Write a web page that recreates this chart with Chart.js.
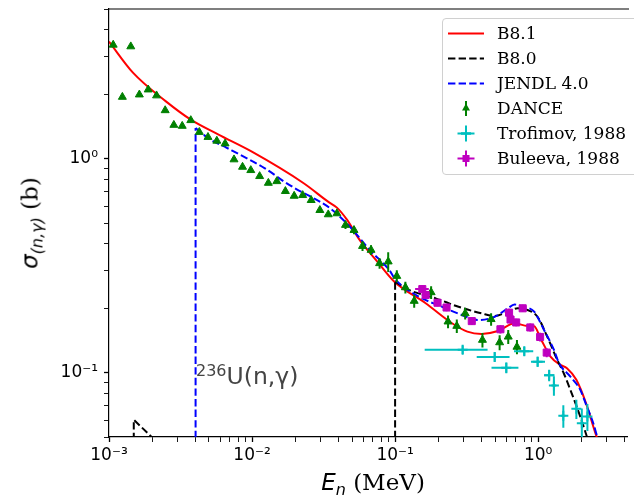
<!DOCTYPE html>
<html><head><meta charset="utf-8">
<script src="https://cdn.jsdelivr.net/npm/chart.js@4.4.1/dist/chart.umd.min.js"></script>
<style>
html,body{margin:0;padding:0;background:#fff;}
#wrap{position:relative;width:634px;height:496px;overflow:hidden;background:#fff;}
canvas{position:absolute;left:0;top:0;}
.ov{position:absolute;white-space:nowrap;color:#000;line-height:1;}
#legend{position:absolute;left:442px;top:18px;width:200px;height:157px;border:1px solid #d0d0d0;border-radius:4px;background:rgba(255,255,255,0.85);box-sizing:border-box;}
.row{position:absolute;left:0;height:25px;width:200px;}
.row svg{position:absolute;left:4px;top:0;}
.row span{position:absolute;left:54px;top:2px;font-family:'DejaVu Serif',serif;font-size:17px;line-height:20px;color:#000;}
</style></head><body>
<div id="wrap">
<canvas id="c" width="634" height="496"></canvas>
<div id="ytitle" class="ov" style="left:30px;top:223px;transform:translate(-50%,-50%) rotate(-90deg);font-size:23px;"><span style="font-family:'DejaVu Sans';font-style:italic;">σ</span><span style="font-family:'DejaVu Sans';font-style:italic;font-size:16px;position:relative;top:5px;">(n,γ)</span><span style="font-family:'DejaVu Serif';"> (b)</span></div>
<div id="xtitle" class="ov" style="left:373px;top:482px;transform:translate(-50%,-50%);font-size:23px;"><span style="font-family:'DejaVu Sans';font-style:italic;">E</span><span style="font-family:'DejaVu Sans';font-style:italic;font-size:16px;position:relative;top:5px;">n</span><span style="font-family:'DejaVu Serif';"> (MeV)</span></div>
<div id="note" class="ov" style="left:196px;top:365px;font-family:'DejaVu Sans';font-size:23.5px;color:#444;"><span style="font-size:16px;position:relative;top:-8px;">236</span>U(n,γ)</div>
<div id="legend"></div>
</div>
<script>
// ---- axis ranges & tick labels ----
const xMin = 1e-3, xMax = 4.18;
const yMin = 0.05, yMax = 5;
const xMajorTicks = [1e-3, 1e-2, 1e-1, 1];
const xMajorLabels = ['10\u207B\u00B3', '10\u207B\u00B2', '10\u207B\u00B9', '10\u2070'];
const yMajorTicks = [0.1, 1];
const yMajorLabels = ['10\u207B\u00B9', '10\u2070'];

// ---- evaluations (E in MeV, sigma in b) ----
const b81E = [1e-3, 1.47e-3, 2.5e-3, 3.73e-3, 5.83e-3, 9.9e-3, 2.31e-2, 3.4e-2, 3.92e-2, 4.58e-2, 5.68e-2, 7.46e-2, 0.0989, 0.1636, 0.25, 0.32, 0.4027, 0.524, 0.683, 0.843, 0.938, 1.044, 1.22, 1.43, 1.59, 1.85, 2.16, 2.56, 2.84];
const b81S = [3.52, 2.52, 1.85, 1.52, 1.294, 1.08, 0.765, 0.629, 0.59, 0.521, 0.415, 0.332, 0.2657, 0.2108, 0.170, 0.1553, 0.1516, 0.1564, 0.170, 0.165, 0.1645, 0.1436, 0.1188, 0.1086, 0.1048, 0.0925, 0.072, 0.0503, 0.043];

const b80E = [0.1, 0.1256, 0.192, 0.2776, 0.403, 0.497, 0.614, 0.72, 0.844, 0.989, 1.159, 1.36, 1.51, 1.68, 1.97, 2.19, 2.4];
const b80S = [0.2657, 0.243, 0.2223, 0.203, 0.189, 0.1838, 0.1925, 0.1997, 0.196, 0.1824, 0.147, 0.1146, 0.0993, 0.083, 0.0623, 0.0503, 0.042];
const b80LowE = [1.49e-3, 1.49e-3, 2.0e-3, 2.3e-3];
const b80LowS = [0.001, 0.0602, 0.0498, 0.045];

const jenE = [4.03e-3, 4.98e-3, 6.49e-3, 7.2e-3, 1.23e-2, 1.68e-2, 2.08e-2, 2.56e-2, 3.52e-2, 4.84e-2, 6.65e-2, 9.14e-2, 0.1, 0.147, 0.2134, 0.293, 0.381, 0.497, 0.614, 0.684, 0.789, 0.938, 1.10, 1.29, 1.40, 1.68, 1.97, 2.19, 2.43, 2.59, 2.8];
const jenS = [1.389, 1.24, 1.133, 1.093, 0.90, 0.78, 0.715, 0.665, 0.585, 0.48, 0.3735, 0.3006, 0.2735, 0.2262, 0.203, 0.1858, 0.176, 0.1824, 0.1997, 0.208, 0.203, 0.1925, 0.158, 0.1276, 0.1106, 0.0958, 0.083, 0.0694, 0.058, 0.0503, 0.045];

// ---- measurements ----
const danceE = [1.07e-3, 1.24e-3, 1.42e-3, 1.63e-3, 1.88e-3, 2.15e-3, 2.47e-3, 2.84e-3, 3.25e-3, 3.73e-3, 4.28e-3, 4.92e-3, 5.67e-3, 6.48e-3, 7.48e-3, 8.58e-3, 9.8e-3, 1.13e-2, 1.30e-2, 1.49e-2, 1.71e-2, 1.97e-2, 2.26e-2, 2.59e-2, 2.98e-2, 3.41e-2, 3.92e-2, 4.50e-2, 5.16e-2, 5.92e-2, 6.79e-2, 7.79e-2, 8.95e-2, 0.1028, 0.118, 0.136, 0.1786, 0.2345, 0.270, 0.309, 0.408, 0.469, 0.538, 0.618, 0.711];
const danceS = [3.40, 1.94, 3.34, 1.99, 2.10, 1.97, 1.68, 1.435, 1.42, 1.51, 1.33, 1.26, 1.21, 1.175, 0.99, 0.914, 0.882, 0.827, 0.769, 0.783, 0.704, 0.669, 0.674, 0.639, 0.574, 0.548, 0.554, 0.489, 0.463, 0.390, 0.374, 0.324, 0.330, 0.2825, 0.250, 0.216, 0.237, 0.173, 0.165, 0.189, 0.142, 0.1775, 0.1383, 0.147, 0.1318];
const danceErr = [0,0,0,0,0,0,0,0,0,0,0,0,0,0,0,0,0,0,0,0,0,0,0,0,0,0,0, 0.02, 0.02, 0.02, 0.02, 0.018, 0.035, 0.018, 0.016, 0.015, 0.016, 0.012, 0.012, 0.012, 0.011, 0.012, 0.011, 0.011, 0.01];

const troE   = [0.2967, 0.497, 0.599, 0.80, 0.992, 1.194, 1.289, 1.50, 1.85, 2.02, 2.21];
const troS   = [0.128, 0.1184, 0.1054, 0.1259, 0.1125, 0.0972, 0.087, 0.0628, 0.0677, 0.058, 0.0623];
const troElo = [0.161, 0.372, 0.472, 0.678, 0.891, 1.10, 1.24, 1.45, 1.80, 1.97, 2.15];
const troEhi = [0.443, 0.631, 0.728, 0.924, 1.117, 1.30, 1.34, 1.55, 1.90, 2.07, 2.27];
const troErr = [0.006, 0.006, 0.006, 0.006, 0.006, 0.006, 0.009, 0.0075, 0.007, 0.01, 0.009];

const bulE   = [0.155, 0.1636, 0.198, 0.229, 0.3436, 0.545, 0.626, 0.641, 0.702, 0.780, 0.881, 1.032, 1.148];
const bulS   = [0.2456, 0.2304, 0.212, 0.2014, 0.174, 0.1594, 0.1905, 0.177, 0.1715, 0.1997, 0.1625, 0.1467, 0.124];
const bulEerr = [0.017, 0.01, 0.01, 0.01, 0.015, 0.02, 0.02, 0.02, 0.02, 0.025, 0.03, 0.03, 0.035];
const bulErr = [0.01, 0.009, 0.008, 0.008, 0.007, 0.007, 0.008, 0.007, 0.007, 0.008, 0.007, 0.007, 0.006];

const seriesNames = ['B8.1', 'B8.0', 'JENDL 4.0', 'DANCE', 'Trofimov, 1988', 'Buleeva, 1988'];

// ---- colours ----
const cRed = '#ff0000', cBlack = '#000000', cBlue = '#0000ff', cGreen = '#008000', cCyan = '#00bfbf', cMag = '#bf00bf';
const dash = [7.4, 3.2];

function pts(xs, ys) { return xs.map((x, i) => ({x: x, y: ys[i]})); }
function vBars(xs, ys, err) {
  const d = [];
  xs.forEach((x, i) => { if (err[i] > 0) d.push({x: x, y: ys[i] - err[i]}, {x: x, y: ys[i] + err[i]}, {x: x, y: null}); });
  return d;
}
function hBars(lo, hi, ys) {
  const d = [];
  ys.forEach((y, i) => d.push({x: lo[i], y: y}, {x: hi[i], y: y}, {x: hi[i], y: null}));
  return d;
}
function drop(xs, ys) { return [{x: xs[0], y: yMin * 0.2}, {x: xs[0], y: ys[0]}]; }
function majorLabel(v, majors, labels) {
  for (let i = 0; i < majors.length; i++) if (Math.abs(Math.log10(v) - Math.log10(majors[i])) < 1e-6) return labels[i];
  return '';
}
function logTicks(lo, hi) {
  const t = [];
  for (let e = Math.floor(Math.log10(lo)); e <= Math.ceil(Math.log10(hi)); e++)
    for (let m = 1; m <= 9; m++) { const v = m * Math.pow(10, e); if (v >= lo * 0.9999 && v <= hi * 1.0001) t.push(v); }
  return t;
}
const isMajor = (v, majors) => majors.some(m => Math.abs(Math.log10(v) - Math.log10(m)) < 1e-6);

const lineBase = {type: 'line', pointRadius: 0, fill: false, spanGaps: false, borderWidth: 2};
const datasets = [
  Object.assign({}, lineBase, {data: pts(bulE, bulS), showLine: false, pointStyle: 'rect', pointRadius: 5, backgroundColor: cMag, borderColor: cMag, borderWidth: 1, order: 1}),
  Object.assign({}, lineBase, {data: vBars(bulE, bulS, bulErr), borderColor: cMag, borderWidth: 2, order: 2}),
  Object.assign({}, lineBase, {data: hBars(bulE.map((e, i) => e - bulEerr[i]), bulE.map((e, i) => e + bulEerr[i]), bulS), borderColor: cMag, borderWidth: 2, order: 2}),
  Object.assign({}, lineBase, {data: pts(troE, troS), showLine: false, pointStyle: 'cross', pointRadius: 5, borderColor: cCyan, borderWidth: 2, order: 3}),
  Object.assign({}, lineBase, {data: vBars(troE, troS, troErr), borderColor: cCyan, borderWidth: 2, order: 4}),
  Object.assign({}, lineBase, {data: hBars(troElo, troEhi, troS), borderColor: cCyan, borderWidth: 2, order: 4}),
  Object.assign({}, lineBase, {data: pts(danceE, danceS), showLine: false, pointStyle: 'triangle', pointRadius: 4.6, backgroundColor: cGreen, borderColor: cGreen, borderWidth: 1, order: 5}),
  Object.assign({}, lineBase, {data: vBars(danceE, danceS, danceErr), borderColor: cGreen, borderWidth: 2, order: 6}),
  Object.assign({}, lineBase, {data: pts(jenE, jenS), borderColor: cBlue, borderDash: dash, cubicInterpolationMode: 'monotone', order: 7}),
  Object.assign({}, lineBase, {data: drop(jenE, jenS), borderColor: cBlue, borderDash: dash, order: 7}),
  Object.assign({}, lineBase, {data: pts(b80E, b80S), borderColor: cBlack, borderDash: dash, cubicInterpolationMode: 'monotone', order: 8}),
  Object.assign({}, lineBase, {data: drop(b80E, b80S), borderColor: cBlack, borderDash: dash, order: 8}),
  Object.assign({}, lineBase, {data: pts(b80LowE, b80LowS), borderColor: cBlack, borderDash: dash, order: 8}),
  Object.assign({}, lineBase, {data: pts(b81E, b81S), borderColor: cRed, cubicInterpolationMode: 'monotone', order: 9})
];

const frame = {
  id: 'frame',
  afterDraw(chart) {
    const a = chart.chartArea, c = chart.ctx;
    c.save(); c.strokeStyle = '#000'; c.lineWidth = 1.2;
    c.beginPath(); c.moveTo(a.left, a.top); c.lineTo(a.right + 2, a.top); c.stroke();
    c.restore();
  }
};

function axisCommon(majors, labels, tickVals) {
  return {
    type: 'logarithmic',
    afterBuildTicks: s => { s.ticks = tickVals.map(v => ({value: v, major: isMajor(v, majors)})); },
    ticks: {autoSkip: false, maxRotation: 0, minRotation: 0, color: '#000', font: {family: 'DejaVu Sans', size: 17},
            callback: v => majorLabel(v, majors, labels)},
    grid: {display: true, drawOnChartArea: false, drawTicks: true, tickLength: 5, tickColor: '#000',
           tickWidth: ctx => (ctx.tick && isMajor(ctx.tick.value, majors)) ? 1.3 : 0.9},
    border: {display: true, color: '#000', width: 1.2}
  };
}
const xAxis = Object.assign(axisCommon(xMajorTicks, xMajorLabels, logTicks(xMin, xMax)), {
  position: 'bottom', min: xMin, max: xMax,
  afterFit: s => { s.height = 59; s.paddingLeft = 0; s.paddingRight = 0; }
});
xAxis.ticks.padding = 3;
const yAxis = Object.assign(axisCommon(yMajorTicks, yMajorLabels, logTicks(yMin, yMax)), {
  position: 'left', min: yMin, max: yMax,
  afterFit: s => { s.width = 109; s.paddingTop = 0; s.paddingBottom = 0; }
});
yAxis.ticks.padding = 6;

new Chart(document.getElementById('c'), {
  type: 'scatter',
  data: {datasets: datasets},
  options: {
    responsive: false, animation: false, devicePixelRatio: 1,
    layout: {padding: {top: 9, right: 0, left: 0, bottom: 0}},
    plugins: {legend: {display: false}, tooltip: {enabled: false}},
    scales: {x: xAxis, y: yAxis}
  },
  plugins: [frame]
});

// ---- legend (HTML) ----
const icons = [
  '<line x1="1" y1="12.5" x2="37" y2="12.5" stroke="' + cRed + '" stroke-width="2"/>',
  '<line x1="1" y1="12.5" x2="37" y2="12.5" stroke="' + cBlack + '" stroke-width="2" stroke-dasharray="' + dash.join(',') + '"/>',
  '<line x1="1" y1="12.5" x2="37" y2="12.5" stroke="' + cBlue + '" stroke-width="2" stroke-dasharray="' + dash.join(',') + '"/>',
  '<line x1="19" y1="5" x2="19" y2="20" stroke="' + cGreen + '" stroke-width="2"/><polygon points="19,7.5 23,14.5 15,14.5" fill="' + cGreen + '"/>',
  '<line x1="10.5" y1="12.5" x2="27.5" y2="12.5" stroke="' + cCyan + '" stroke-width="2"/><line x1="19" y1="4.5" x2="19" y2="20.5" stroke="' + cCyan + '" stroke-width="2"/><line x1="14" y1="12.5" x2="24" y2="12.5" stroke="' + cCyan + '" stroke-width="2.5"/>',
  '<line x1="10.5" y1="12.5" x2="27.5" y2="12.5" stroke="' + cMag + '" stroke-width="2"/><line x1="19" y1="4.5" x2="19" y2="20.5" stroke="' + cMag + '" stroke-width="2"/><rect x="15.5" y="9" width="7" height="7" fill="' + cMag + '"/>'
];
const lg = document.getElementById('legend');
seriesNames.forEach((n, i) => {
  const r = document.createElement('div');
  r.className = 'row';
  r.style.top = (2.2 + 25 * i) + 'px';
  r.innerHTML = '<svg width="40" height="25">' + icons[i] + '</svg><span>' + n + '</span>';
  lg.appendChild(r);
});
</script>
</body></html>
